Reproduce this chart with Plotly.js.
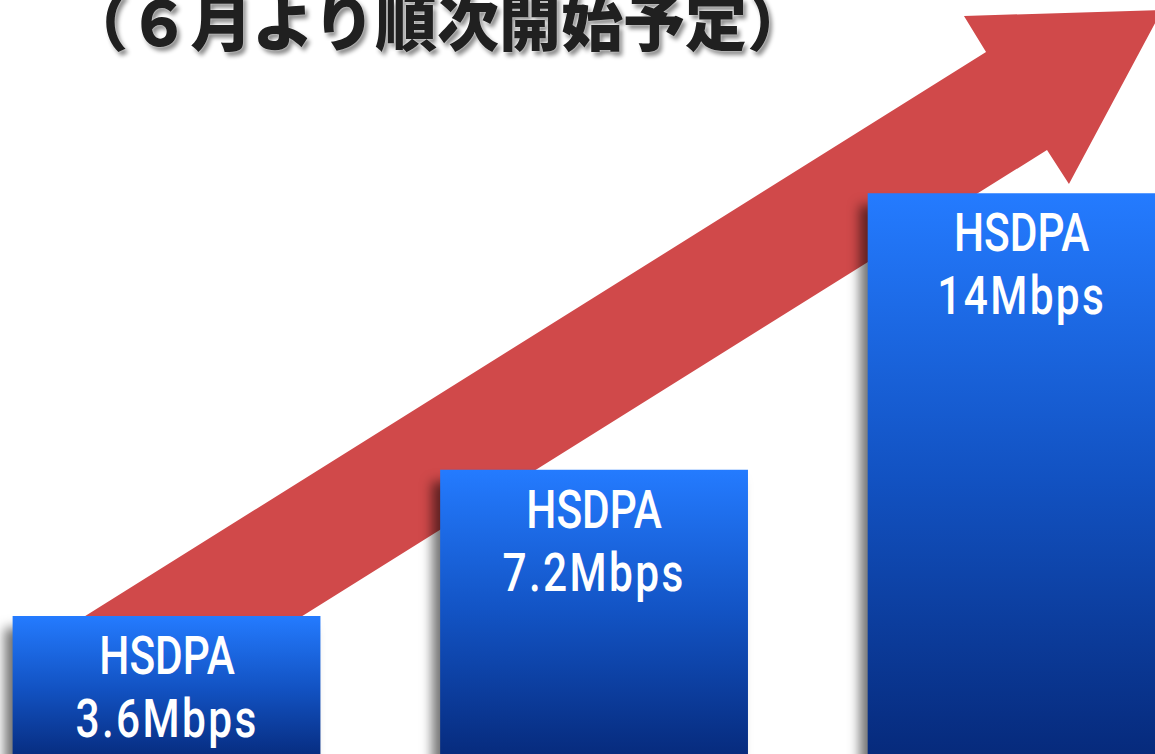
<!DOCTYPE html>
<html>
<head>
<meta charset="utf-8">
<script src="https://cdn.plot.ly/plotly-3.0.1.min.js"></script>
<style>
html,body{margin:0;padding:0;background:#fff;overflow:hidden;}
#chart{width:1155px;height:754px;}
.annotation-text-g text{transform-box: fill-box; transform-origin: center top; transform: scaleX(0.8);}
</style>
</head>
<body>
<div id="chart"></div>
<script>
// ---- data ----
const categories = ["3.6Mbps", "7.2Mbps", "14Mbps"];
const speeds = [3.6, 7.2, 14];
const barLabels = ["HSDPA<br>3.6Mbps", "HSDPA<br>7.2Mbps", "HSDPA<br>14Mbps"];
const titleText = "（６月より順次開始予定）";

// decorative arrow outline (pixel positions of the picture)
const arrowPx = [[31,650],[986,52],[964,16],[1162,10],[1069,184],[1047,150],[248,650]];
const W = 1155, H = 754;
const arrowPath = arrowPx.map((p,i)=> (i?'L':'M') + (p[0]/W).toFixed(4) + ',' + (1-p[1]/H).toFixed(4)).join(' ') + ' Z';

const labelFont = {family: "Roboto, 'DejaVu Sans', sans-serif", size: 53, weight: 500, color: '#ffffff'};

const trace = {
  type: 'bar',
  x: categories,
  y: speeds,
  marker: {color: '#1a5fd8', line: {width: 0}},
  hoverinfo: 'none',
  cliponaxis: true
};

const layout = {
  width: W, height: H,
  margin: {l:0, r:0, t:0, b:0, pad:0},
  paper_bgcolor: '#ffffff',
  plot_bgcolor: '#ffffff',
  showlegend: false,
  bargap: 0.28,
  xaxis: {type: 'category', range: [-0.3895, 2.312], visible: false, fixedrange: true},
  yaxis: {range: [0.207, 18.75], visible: false, fixedrange: true},
  title: {
    text: titleText,
    x: 0.379, xanchor: 'center',
    y: 0.968, yanchor: 'middle', yref: 'container',
    font: {family: "'Noto Sans CJK JP', sans-serif", size: 62, weight: 900, color: '#202020',
           shadow: '0px 0px 2px #ffffff, 3px 4px 4px rgba(0,0,0,0.45)'}
  },
  shapes: [{
    type: 'path', xref: 'paper', yref: 'paper', layer: 'below',
    path: arrowPath,
    fillcolor: '#d0494a', line: {width: 0}
  }],
  annotations: categories.map((c, i) => ({
    x: c, y: speeds[i], xref: 'x', yref: 'y',
    text: barLabels[i], showarrow: false,
    xanchor: 'center', yanchor: 'top', yshift: -7,
    font: labelFont, align: 'center'
  }))
};

Plotly.newPlot('chart', [trace], layout, {staticPlot: true, displayModeBar: false}).then(gd => {
  const svg = gd.querySelector('svg.main-svg');
  const NS = 'http://www.w3.org/2000/svg';
  let defs = svg.querySelector('defs');
  if (!defs) { defs = document.createElementNS(NS, 'defs'); svg.insertBefore(defs, svg.firstChild); }
  const grad = document.createElementNS(NS, 'linearGradient');
  grad.setAttribute('id', 'barGrad');
  grad.setAttribute('x1', '0'); grad.setAttribute('y1', '0');
  grad.setAttribute('x2', '0'); grad.setAttribute('y2', '1');
  [['0', '#247bff'], ['0.5', '#1252c2'], ['1', '#06297a']].forEach(([o, c]) => {
    const s = document.createElementNS(NS, 'stop');
    s.setAttribute('offset', o); s.setAttribute('stop-color', c);
    grad.appendChild(s);
  });
  defs.appendChild(grad);
  gd.querySelectorAll('.barlayer .point path').forEach(p => {
    p.style.fill = 'url(#barGrad)';
    p.style.filter = 'drop-shadow(-8px 12px 6px rgba(0,0,0,0.55))';
  });
  // tighten the label line spacing and widen the speed line a little
  gd.querySelectorAll('.annotation-text-g text').forEach(t => {
    const lines = t.querySelectorAll('tspan.line');
    if (lines.length > 1) {
      lines[1].setAttribute('dy', '1.18em');
      lines[1].style.letterSpacing = '3px';
    }
  });
});
</script>
</body>
</html>
